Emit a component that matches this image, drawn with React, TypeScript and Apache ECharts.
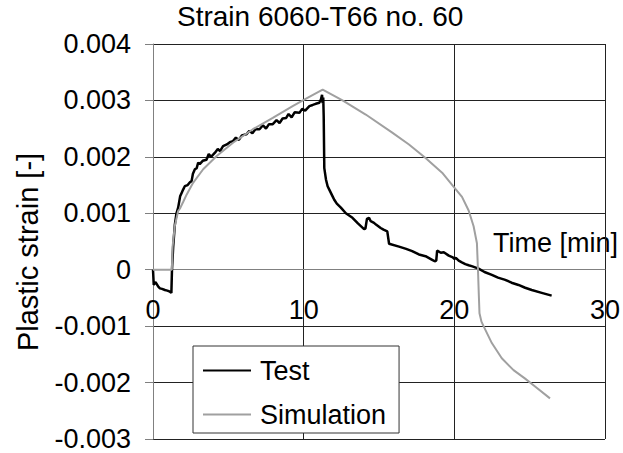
import React, { useEffect, useRef } from "react";
import * as echarts from "echarts";

const FONT = "'Liberation Sans', Arial, sans-serif";

const chartTitle = "Strain 6060-T66 no. 60";
const xAxisName = "Time [min]";
const yAxisName = "Plastic strain [-]";
const seriesNames = ["Test", "Simulation"];

const testTime = [
  0, 0.05, 0.15, 0.24, 0.35, 0.46, 0.6, 0.79, 0.95, 1.12, 1.22, 1.26, 1.34, 1.45, 1.56, 1.67, 1.8, 1.9, 2.0,
  2.11, 2.3, 2.45, 2.56, 2.65, 2.78, 2.9, 3.0, 3.1, 3.3, 3.55, 3.7, 3.85, 4.1, 4.3, 4.45, 4.65, 4.9, 5.1,
  5.31, 5.5, 5.7, 5.9, 6.19, 6.4, 6.6, 6.8, 7.07, 7.3, 7.5, 7.7, 7.95, 8.2, 8.4, 8.6, 8.84, 9.0, 9.2, 9.4,
  9.72, 9.9, 10.1, 10.38, 10.6, 10.8, 11.04, 11.15, 11.22, 11.26, 11.3, 11.33, 11.37, 11.48, 11.59, 11.7,
  11.92, 12.03, 12.2, 12.47, 12.8, 13.24, 13.6, 14.01, 14.1, 14.2, 14.34, 14.45, 14.67, 14.8, 15.11, 15.3,
  15.55, 15.67, 16.33, 16.8, 17.2, 17.65, 18.09, 18.5, 18.7, 18.8, 18.86, 19.1, 19.3, 19.63, 19.9, 20.0,
  20.1, 20.29, 20.5, 20.73, 20.95, 21.2, 21.61, 22.0, 22.49, 22.9, 23.38, 23.8, 24.26, 24.7, 25.14, 25.8,
  26.46,
];
const testStrain = [
  0, -0.00027, -0.00022, -0.00025, -0.0003, -0.00033, -0.00034, -0.00036, -0.00037, -0.00039, -0.00041, 0,
  0.00041, 0.0008, 0.001, 0.0011, 0.0013, 0.00136, 0.00142, 0.00148, 0.0015, 0.00155, 0.00157, 0.0017,
  0.00178, 0.0018, 0.0019, 0.00187, 0.00193, 0.00195, 0.00205, 0.002, 0.00207, 0.00214, 0.0021, 0.00219,
  0.00222, 0.00226, 0.00228, 0.00234, 0.0023, 0.00238, 0.0024, 0.00246, 0.00242, 0.00249, 0.00249, 0.00256,
  0.0025, 0.00258, 0.00258, 0.00265, 0.0026, 0.00268, 0.00269, 0.00276, 0.0027, 0.00279, 0.00278, 0.00285,
  0.00282, 0.0029, 0.00292, 0.00294, 0.00296, 0.00302, 0.0031, 0.00295, 0.00305, 0.00272, 0.0018, 0.0016,
  0.00148, 0.00142, 0.0013, 0.00124, 0.00117, 0.0011, 0.001, 0.00092, 0.00082, 0.00072, 0.00073, 0.0009,
  0.00092, 0.00086, 0.00083, 0.0008, 0.00074, 0.00071, 0.00068, 0.00046, 0.00041, 0.00037, 0.00033,
  0.00027, 0.00024, 0.00018, 0.00015, 0.00016, 0.00034, 0.0003, 0.00031, 0.00025, 0.00022, 0.00019,
  0.00021, 0.00016, 0.00013, 0.0001, 0.00008, 0.00006, 0.00002, -0.00004, -0.00009, -0.00014, -0.00018,
  -0.00023, -0.00027, -0.00032, -0.00036, -0.00041, -0.00046,
];

const simTime = [
  0, 1.25, 1.3, 1.45, 1.67, 1.78, 2.0, 2.23, 2.66, 3.33, 4.21, 5.31, 6.63, 7.95, 9.27, 10.16, 11.26, 12.58,
  14.12, 15.88, 16.99, 18.09, 19.19, 19.96, 20.51, 20.95, 21.28, 21.5, 21.57, 21.62, 21.67, 21.8, 21.94,
  22.49, 23.15, 23.93, 24.7, 25.36, 26.35,
];
const simStrain = [
  0, 0, 0.00041, 0.00078, 0.00104, 0.00108, 0.0012, 0.00133, 0.00154, 0.00178, 0.00201, 0.00225, 0.00249,
  0.00269, 0.0029, 0.00303, 0.00319, 0.003, 0.00275, 0.00243, 0.00222, 0.00198, 0.00172, 0.00147, 0.00129,
  0.00105, 0.00077, 0.00047, 0, -0.0004, -0.00077, -0.00092, -0.001, -0.0013, -0.00157, -0.00178, -0.00193,
  -0.00207, -0.00228,
];

const xMin = 0, xMax = 30, xStep = 10;
const yMin = -0.003, yMax = 0.004, yStep = 0.001;

export default function App() {
  const ref = useRef<HTMLDivElement>(null);
  useEffect(() => {
    if (!ref.current) return;
    const chart = echarts.init(ref.current, undefined, { renderer: "svg" });
    const fs = 27;
    const gridTop = 44;
    const gridHeight = 395;
    // shift the x axis up from the grid bottom to where y = 0 lies
    const zeroOffset = -(gridHeight * (0 - yMin)) / (yMax - yMin);
    const testData = testTime.map((t, i) => [t, testStrain[i]]);
    const simData = simTime.map((t, i) => [t, simStrain[i]]);
    chart.setOption({
      animation: false,
      backgroundColor: "#fff",
      textStyle: { fontFamily: FONT },
      grid: { left: 153, top: gridTop, width: 454, height: gridHeight, containLabel: false },
      xAxis: {
        type: "value",
        min: xMin,
        max: xMax,
        interval: xStep,
        offset: zeroOffset,
        axisLine: { show: true, onZero: false, lineStyle: { color: "#808080", width: 1 } },
        axisTick: { show: false },
        axisLabel: { color: "#000", fontSize: fs, fontFamily: FONT, margin: 27 },
        splitLine: {
          show: true,
          lineStyle: { color: ["#808080", "#222", "#222", "#222"], width: 1 },
        },
      },
      yAxis: {
        type: "value",
        min: yMin,
        max: yMax,
        interval: yStep,
        axisLine: { show: true, onZero: false, lineStyle: { color: "#808080", width: 1 } },
        axisTick: { show: true, inside: false, length: 8, lineStyle: { color: "#808080" } },
        axisLabel: {
          color: "#000",
          fontSize: fs,
          fontFamily: FONT,
          margin: 22,
          formatter: (v: number) => (Math.abs(v) < 1e-9 ? "0" : v.toFixed(3)),
        },
        splitLine: {
          show: true,
          lineStyle: {
            color: ["#222", "#222", "#222", "#808080", "#222", "#222", "#222", "#222"],
            width: 1,
          },
        },
      },
      legend: {
        orient: "vertical",
        left: 193,
        top: 346,
        itemWidth: 48,
        itemHeight: 2,
        itemGap: 17,
        icon: "rect",
        padding: [11, 13, 5, 10],
        backgroundColor: "#fff",
        borderColor: "#333",
        borderWidth: 1,
        textStyle: { fontSize: fs, fontFamily: FONT, color: "#000", lineHeight: 26, padding: [0, 0, 0, 4] },
        data: seriesNames,
      },
      graphic: [
        {
          type: "text",
          left: 177,
          top: 2,
          style: { text: chartTitle, font: `28px ${FONT}`, fill: "#000" },
        },
        {
          type: "text",
          x: 493,
          y: 229,
          style: { text: xAxisName, font: `${fs}px ${FONT}`, fill: "#000" },
        },
        {
          type: "text",
          x: 28,
          y: 252,
          rotation: Math.PI / 2,
          style: {
            text: yAxisName,
            font: `29px ${FONT}`,
            fill: "#000",
            align: "center",
            verticalAlign: "middle",
          },
        },
      ],
      series: [
        {
          name: seriesNames[0],
          type: "line",
          data: testData,
          showSymbol: false,
          symbol: "none",
          color: "#000",
          lineStyle: { color: "#000", width: 2.5 },
          z: 3,
        },
        {
          name: seriesNames[1],
          type: "line",
          data: simData,
          showSymbol: false,
          symbol: "none",
          color: "#a0a0a0",
          lineStyle: { color: "#a0a0a0", width: 2 },
          z: 4,
        },
      ],
    });
    return () => chart.dispose();
  }, []);
  return (
    <div
      ref={ref}
      style={{ position: "fixed", left: 0, top: 0, width: 623, height: 453 }}
    />
  );
}
